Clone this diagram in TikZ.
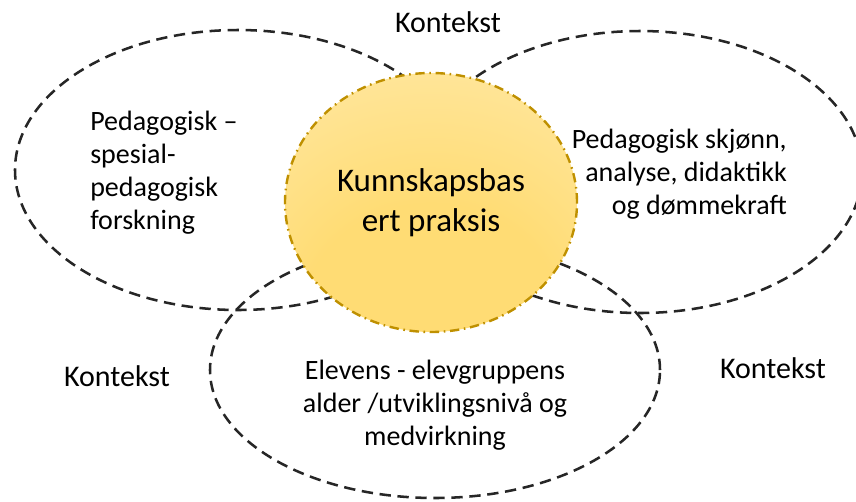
\documentclass[tikz,border=0pt]{standalone}
\usepackage{fontspec}
\setmainfont{Carlito}
\usetikzlibrary{shapes.geometric}

\definecolor{dashgray}{HTML}{262626}
\definecolor{kpedge}{HTML}{BF9000}
\definecolor{kpgold}{HTML}{FFDC74}
\definecolor{kpcream}{HTML}{FFFAEC}
\pgfdeclareradialshading{kpglow}{\pgfpoint{0bp}{-30bp}}{color(0bp)=(kpgold); color(22bp)=(kpgold); color(85bp)=(kpcream)}

\begin{document}
\begin{tikzpicture}[x=0.75pt, y=-0.75pt,
    ring/.style={ellipse, draw=dashgray, line width=1.9pt, dash pattern=on 8.5pt off 5pt, inner sep=0pt, outer sep=0pt},
    lbl/.style={font=\fontsize{21pt}{24.75pt}\selectfont, inner sep=0pt},
    ctx/.style={font=\fontsize{22.5pt}{27pt}\selectfont, inner sep=0pt}]
            \useasboundingbox (0,0) rectangle (856,501);

            % Context rings
            \node [ring, minimum width=334.5pt, minimum height=210pt] (research) at (238,170) {};
            \node [ring, minimum width=333pt, minimum height=211.5pt] (judgement) at (640,172) {};
            \node [ring, minimum width=337.5pt, minimum height=192pt] (pupils) at (435,370) {};

            % Core
            \node [ellipse, draw=kpedge, line width=1.8pt, dash pattern=on 7pt off 3.5pt on 1.2pt off 3.5pt,
                   shading=kpglow, minimum width=219pt, minimum height=194.25pt, inner sep=0pt,
                   align=center, font=\fontsize{24.75pt}{30pt}\selectfont] (core) at (431,202.5) {Kunnskapsbas\\ert praksis};

            % Ring labels
            \node [lbl, anchor=west, align=left] (researchtext) at (90,173) {Pedagogisk --\\spesial-\\pedagogisk\\forskning};
            \node [lbl, anchor=east, align=right] (judgementtext) at (787,174) {Pedagogisk skjønn,\\analyse, didaktikk\\og dømmekraft};
            \node [lbl, align=center] (pupilstext) at (435,405) {Elevens - elevgruppens\\alder /utviklingsnivå og\\medvirkning};

            % Context labels
            \node [ctx] (ctxtop) at (448,22) {Kontekst};
            \node [ctx] (ctxleft) at (117,376) {Kontekst};
            \node [ctx] (ctxright) at (773,368) {Kontekst};
        \end{tikzpicture}
\end{document}
